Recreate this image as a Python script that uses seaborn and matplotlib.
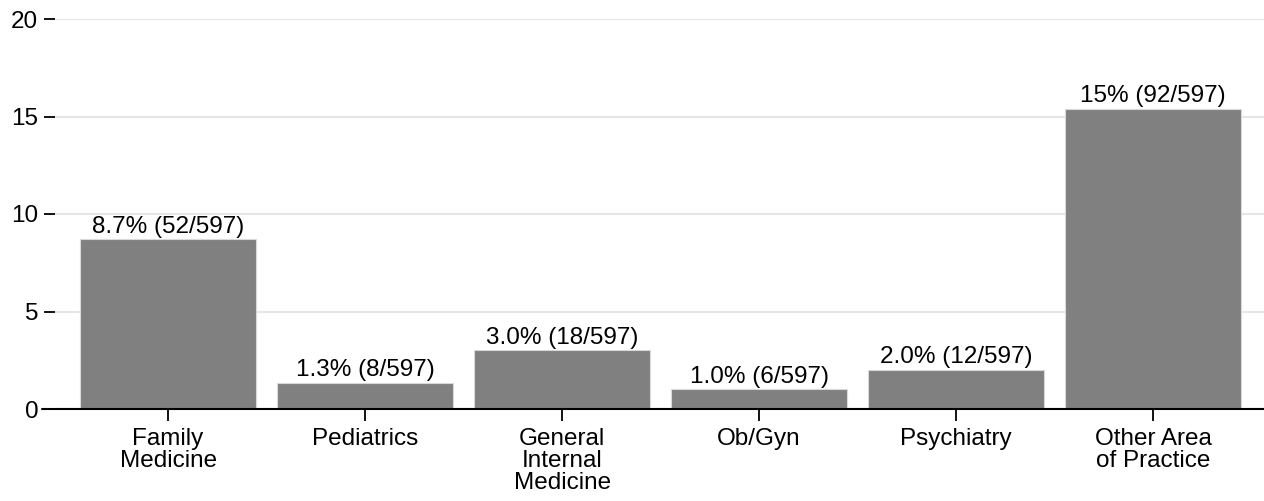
import numpy as np
import pandas as pd
import seaborn as sns
import matplotlib.pyplot as plt

# values
categories = ["Family\nMedicine", "Pediatrics", "General\nInternal\nMedicine",
              "Ob/Gyn", "Psychiatry", "Other Area\nof Practice"]
percents = [8.71, 1.34, 3.02, 1.01, 2.01, 15.41]
bar_labels = ["8.7% (52/597)", "1.3% (8/597)", "3.0% (18/597)",
              "1.0% (6/597)", "2.0% (12/597)", "15% (92/597)"]

df = pd.DataFrame({"area": categories, "pct": percents})

sns.set_style("white")
plt.rcParams["font.family"] = ["Liberation Sans", "DejaVu Sans"]
plt.rcParams["text.color"] = "black"
plt.rcParams["xtick.color"] = "black"
plt.rcParams["ytick.color"] = "black"
plt.rcParams["axes.labelcolor"] = "black"

fig = plt.figure(figsize=(12.64, 5.01), dpi=100)
ax = fig.add_axes([55 / 1264, 92 / 501, 1 - 55 / 1264, 390 / 501])

sns.barplot(data=df, x="area", y="pct", color="#808080", saturation=1,
            width=0.895, edgecolor="#d9d9d9", linewidth=0.8, ax=ax, zorder=2)

ax.bar_label(ax.containers[0], labels=bar_labels, padding=1, fontsize=17.5, color="black")

ax.set_ylim(0, 20)
ax.set_xlim(-0.574, 5.563)
ax.set_yticks([0, 5, 10, 15, 20])
ax.yaxis.grid(True, color="#e6e6e6", linewidth=1.5, zorder=0)
ax.set_axisbelow(True)

for s in ["top", "right", "left", "bottom"]:
    ax.spines[s].set_visible(False)
# bottom axis line reaches past the plot area to the left
ax.axhline(0, xmin=-0.011, xmax=1, color="black", linewidth=1.5, clip_on=False, zorder=3)

ax.tick_params(axis="y", length=8, width=1.3, color="black", pad=4,
               labelsize=17.5, labelcolor="black", left=True, direction="out")
ax.tick_params(axis="x", length=8.5, width=1.3, color="black", pad=5,
               labelsize=17.5, labelcolor="black", bottom=True, direction="out")
for t in ax.get_xticklabels():
    t.set_linespacing(1.0)

ax.set_xlabel("")
ax.set_ylabel("")

plt.savefig("out.png", dpi=100)
